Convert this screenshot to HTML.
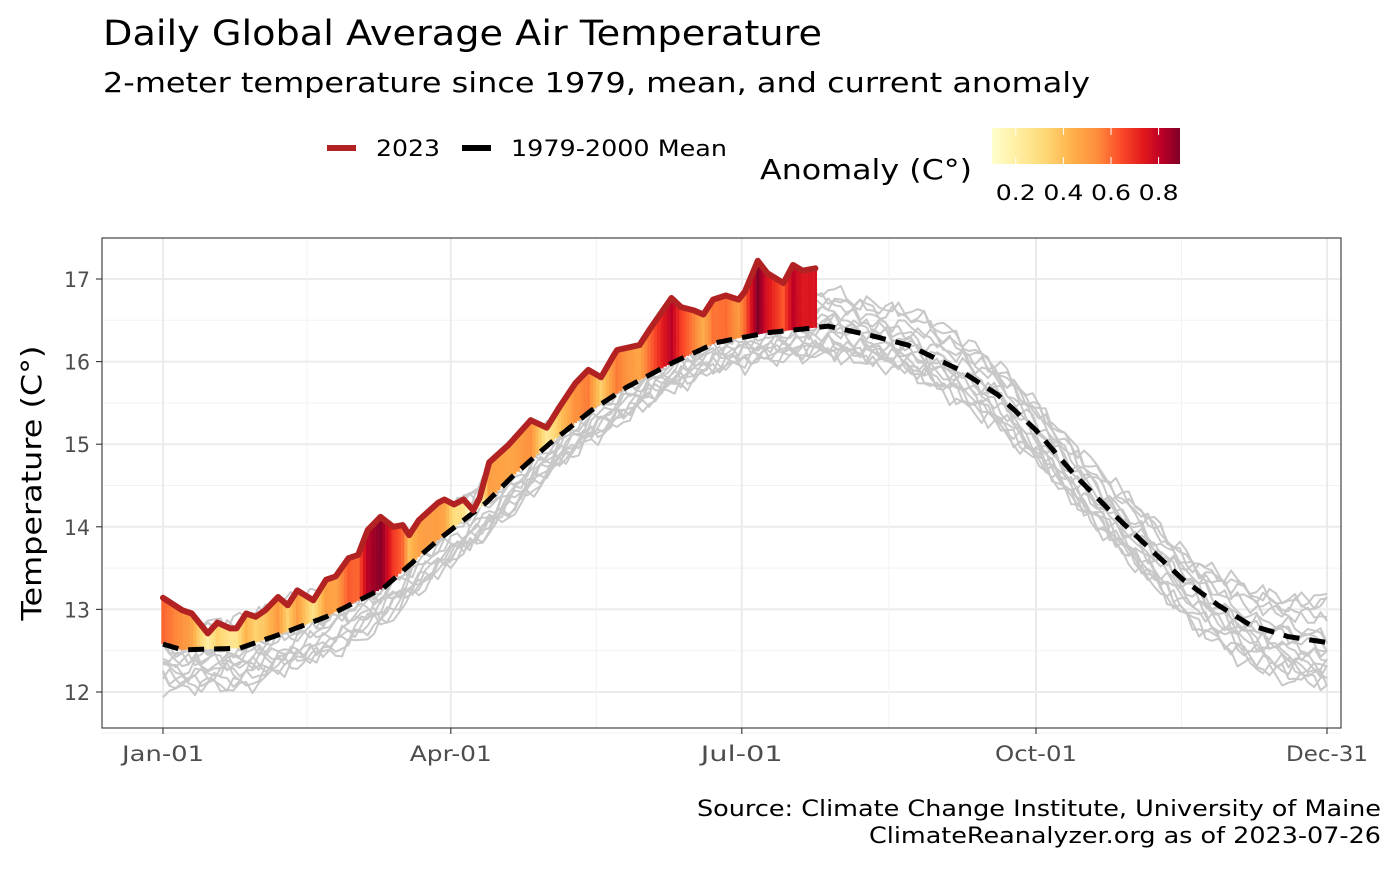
<!DOCTYPE html>
<html><head><meta charset="utf-8">
<style>
body{margin:0;background:#fff;width:1400px;height:866px;overflow:hidden;font-family:"DejaVu Sans","Liberation Sans",sans-serif;}
svg text{font-family:"DejaVu Sans","Liberation Sans",sans-serif;}
</style></head>
<body>
<svg id="chart" width="1400" height="866" xmlns="http://www.w3.org/2000/svg">
<defs>
<linearGradient id="cbar" x1="0" x2="1" y1="0" y2="0">
<stop offset="0" stop-color="#ffffcc"/><stop offset="0.14" stop-color="#ffeda0"/>
<stop offset="0.28" stop-color="#fed976"/><stop offset="0.42" stop-color="#feb24c"/>
<stop offset="0.56" stop-color="#fd8d3c"/><stop offset="0.68" stop-color="#fc4e2a"/>
<stop offset="0.8" stop-color="#e31a1c"/><stop offset="0.9" stop-color="#bd0026"/>
<stop offset="1" stop-color="#800026"/>
</linearGradient>
<clipPath id="pclip"><rect x="102" y="238" width="1239" height="490"/></clipPath>
</defs>
<text x="103" y="45" font-size="35" textLength="719" lengthAdjust="spacingAndGlyphs" fill="#000">Daily Global Average Air Temperature</text>
<text x="103" y="92" font-size="28" textLength="987" lengthAdjust="spacingAndGlyphs" fill="#000">2-meter temperature since 1979, mean, and current anomaly</text>
<g>
<line x1="327" y1="148" x2="356" y2="148" stroke="#b22222" stroke-width="6"/>
<text x="376" y="156" font-size="22" textLength="64" lengthAdjust="spacingAndGlyphs">2023</text>
<line x1="462" y1="148" x2="491" y2="148" stroke="#000" stroke-width="6"/>
<text x="511" y="156" font-size="22" textLength="216" lengthAdjust="spacingAndGlyphs">1979-2000 Mean</text>
<text x="760" y="179" font-size="28" textLength="212" lengthAdjust="spacingAndGlyphs">Anomaly (C°)</text>
<rect x="992" y="128" width="188" height="36" fill="url(#cbar)"/>
<g id="cbticks"></g>
</g>
<rect x="102" y="238" width="1239" height="490" fill="#fff"/>
<g id="grid"></g>
<g id="gray" clip-path="url(#pclip)"></g>
<g id="anom" clip-path="url(#pclip)"></g>
<g id="lines" clip-path="url(#pclip)"></g>
<rect x="102" y="238" width="1239" height="490" fill="none" stroke="#333" stroke-width="1.1"/>
<g id="axes"></g>
<text transform="translate(41,483) rotate(-90)" text-anchor="middle" font-size="28" textLength="275" lengthAdjust="spacingAndGlyphs">Temperature (C°)</text>
<text x="1381" y="816" text-anchor="end" font-size="22" textLength="684" lengthAdjust="spacingAndGlyphs">Source: Climate Change Institute, University of Maine</text>
<text x="1381" y="843" text-anchor="end" font-size="22" textLength="512" lengthAdjust="spacingAndGlyphs">ClimateReanalyzer.org as of 2023-07-26</text>
</svg>
<script>
// ---- data ----
const meanDays = [1,7,25,37,52,70,87,102,110,122,135,146,160,174,190,205,209,222,234,250,262,274,286,297,310,320,331,341,353,365];
const meanTemps = [12.58,12.51,12.53,12.69,12.91,13.26,13.84,14.29,14.6,15.01,15.41,15.69,15.98,16.23,16.35,16.41,16.43,16.32,16.2,15.9,15.6,15.17,14.63,14.2,13.72,13.36,13.05,12.81,12.67,12.6];
const y2023Days = [1,7,10,15,18,22,24,27,30,33,37,40,43,48,52,55,59,62,65,69,73,76,78,81,87,89,92,95,98,100,103,109,116,121,125,130,134,138,142,143,150,153,160,163,167,170,173,177,181,183,187,190,195,198,201,205];
const y2023Temps = [13.14,12.99,12.95,12.71,12.84,12.77,12.77,12.95,12.91,12.99,13.15,13.05,13.23,13.11,13.36,13.4,13.62,13.66,13.96,14.12,14.0,14.02,13.9,14.08,14.29,14.33,14.27,14.33,14.2,14.35,14.78,14.99,15.29,15.2,15.45,15.74,15.9,15.81,16.08,16.14,16.2,16.38,16.77,16.66,16.62,16.57,16.75,16.8,16.75,16.85,17.22,17.07,16.95,17.17,17.1,17.13];
// gray historical years: anomaly vs mean at days 1,15,29,...,365 (every 14 days)
const grayDays = [1,15,29,43,57,71,85,99,113,127,141,155,169,183,197,211,225,239,253,267,281,295,309,323,337,351,365];
const grayYears = [
[-0.30,-0.20,-0.35,-0.25,-0.10,-0.30,-0.20,-0.35,-0.15,-0.30,-0.20,-0.10,-0.25,-0.30,-0.15,-0.20,-0.30,-0.10,-0.20,-0.35,-0.25,-0.30,-0.15,-0.20,-0.35,-0.30,-0.40],
[0.20,0.35,0.15,0.25,0.30,0.10,0.20,0.05,0.15,0.10,0.20,0.15,0.10,0.25,0.30,0.35,0.20,0.25,0.15,0.30,0.20,0.25,0.35,0.20,0.30,0.25,0.35],
[-0.15,-0.05,-0.20,-0.30,-0.25,-0.15,-0.35,-0.25,-0.40,-0.30,-0.20,-0.25,-0.15,-0.10,-0.20,-0.05,-0.15,-0.25,-0.30,-0.20,-0.35,-0.25,-0.30,-0.45,-0.35,-0.40,-0.30],
[0.05,0.10,0.00,-0.10,0.05,0.15,0.05,-0.05,0.10,0.00,-0.05,0.05,0.10,0.00,-0.05,0.10,0.05,-0.05,0.00,0.10,0.05,0.15,0.05,0.10,0.00,0.15,0.05],
[-0.45,-0.35,-0.40,-0.30,-0.35,-0.20,-0.30,-0.15,-0.25,-0.35,-0.30,-0.20,-0.30,-0.25,-0.35,-0.30,-0.20,-0.35,-0.40,-0.30,-0.20,-0.35,-0.25,-0.40,-0.50,-0.45,-0.50],
[0.35,0.25,0.40,0.20,0.25,0.35,0.15,0.25,0.30,0.20,0.10,0.20,0.15,0.20,0.25,0.30,0.40,0.35,0.25,0.20,0.35,0.30,0.40,0.25,0.35,0.45,0.50],
[-0.25,-0.30,-0.15,-0.35,-0.30,-0.40,-0.25,-0.30,-0.20,-0.15,-0.25,-0.35,-0.20,-0.15,-0.10,-0.20,-0.15,-0.05,-0.15,-0.10,-0.20,-0.10,-0.25,-0.15,-0.20,-0.10,-0.15],
[0.10,0.00,0.15,0.05,-0.05,0.00,0.10,0.15,0.05,0.10,0.15,0.05,0.00,0.05,0.10,0.20,0.15,0.10,0.20,0.15,0.10,0.05,0.15,0.20,0.10,0.05,0.10],
[-0.35,-0.45,-0.50,-0.40,-0.45,-0.35,-0.30,-0.40,-0.35,-0.25,-0.30,-0.25,-0.35,-0.20,-0.25,-0.30,-0.35,-0.25,-0.20,-0.25,-0.15,-0.20,-0.30,-0.25,-0.15,-0.25,-0.35],
[0.25,0.15,0.20,0.30,0.15,0.20,0.25,0.10,0.20,0.25,0.15,0.25,0.30,0.15,0.10,0.05,0.10,0.20,0.30,0.25,0.15,0.10,0.05,0.15,0.20,0.30,0.25],
[-0.10,-0.20,-0.10,0.00,-0.15,-0.05,-0.10,-0.20,-0.05,-0.10,0.00,-0.10,-0.05,-0.15,-0.05,0.00,-0.10,0.05,-0.05,0.00,-0.10,-0.05,0.00,-0.10,-0.05,-0.15,-0.20],
[-0.20,-0.10,-0.25,-0.15,-0.05,-0.20,-0.10,-0.25,-0.30,-0.20,-0.35,-0.15,-0.25,-0.35,-0.30,-0.25,-0.15,-0.20,-0.10,-0.15,-0.25,-0.20,-0.10,-0.05,-0.10,-0.20,-0.25],
[0.15,0.25,0.10,0.15,0.20,0.05,0.15,0.20,0.10,0.05,0.10,0.20,0.25,0.35,0.40,0.45,0.30,0.40,0.35,0.30,0.25,0.20,0.30,0.35,0.40,0.35,0.45],
[-0.40,-0.30,-0.25,-0.45,-0.35,-0.25,-0.40,-0.30,-0.25,-0.20,-0.10,-0.20,-0.10,-0.15,-0.25,-0.35,-0.25,-0.30,-0.35,-0.40,-0.30,-0.35,-0.40,-0.30,-0.25,-0.35,-0.45],
[0.00,-0.10,0.05,-0.05,0.10,0.00,-0.05,0.05,-0.10,-0.05,0.05,-0.05,-0.10,-0.05,0.05,0.10,0.00,-0.10,-0.05,0.05,0.00,-0.10,-0.05,0.05,-0.10,0.00,-0.10],
[-0.55,-0.40,-0.45,-0.35,-0.50,-0.45,-0.40,-0.35,-0.45,-0.30,-0.40,-0.30,-0.20,-0.30,-0.20,-0.25,-0.20,-0.30,-0.25,-0.35,-0.30,-0.25,-0.35,-0.45,-0.40,-0.55,-0.45],
[0.30,0.20,0.30,0.40,0.25,0.30,0.20,0.30,0.25,0.15,0.25,0.30,0.35,0.30,0.35,0.25,0.35,0.45,0.40,0.35,0.30,0.40,0.30,0.25,0.45,0.40,0.55],
[-0.05,0.05,-0.10,0.10,0.00,-0.10,0.05,0.00,-0.15,-0.10,-0.15,0.00,0.05,0.10,0.00,-0.05,0.10,0.00,0.10,-0.05,-0.10,0.00,0.10,0.00,-0.05,0.05,0.00]
];
const yTicks = [12,13,14,15,16,17];
const xTickDays = [1,91,182,274,365];
const xTickLabels = ["Jan-01","Apr-01","Jul-01","Oct-01","Dec-31"];
const cbTicks = [0.2,0.4,0.6,0.8];
const cbMin = 0.1, cbMax = 0.89;

// ---- scales ----
const X = d => 163 + (d - 1) * (1327 - 163) / 364;
const Y = v => 279 + (17 - v) * (692 - 279) / 5;
const CBX = a => 992 + (a - cbMin) / (cbMax - cbMin) * 188;
function interp(xs, ys, d){
  if (d <= xs[0]) return ys[0];
  for (let i = 1; i < xs.length; i++) if (d <= xs[i]) { const t = (d - xs[i-1]) / (xs[i] - xs[i-1]); return ys[i-1] + t * (ys[i] - ys[i-1]); }
  return ys[ys.length - 1];
}
const stops = ["#ffffcc","#ffeda0","#fed976","#feb24c","#fd8d3c","#fc4e2a","#e31a1c","#bd0026","#800026"];
function hex(c){return [1,3,5].map(i=>parseInt(c.substr(i,2),16));}
function colorFor(a){
  let t = Math.max(0, Math.min(1, (a - cbMin) / (cbMax - cbMin))) * (stops.length - 1);
  const i = Math.min(stops.length - 2, Math.floor(t)); const f = t - i;
  const c0 = hex(stops[i]), c1 = hex(stops[i+1]);
  return "rgb(" + c0.map((v,k)=>Math.round(v + f * (c1[k]-v))).join(",") + ")";
}
const NS = "http://www.w3.org/2000/svg";
function mk(tag, attrs, parent){ const e = document.createElementNS(NS, tag); for (const k in attrs) e.setAttribute(k, attrs[k]); parent.appendChild(e); return e; }

// grid
const grid = document.getElementById("grid");
yTicks.forEach((v, i) => {
  const g = mk("line", {x1:102, x2:1341, y1:Y(v), y2:Y(v), stroke:"#ebebeb", "stroke-width":2}, grid);
  
  
  if (i < yTicks.length - 1) {
    const m = mk("line", {x1:102, x2:1341, y1:Y(v + 0.5), y2:Y(v + 0.5), stroke:"#f2f2f2", "stroke-width":1}, grid);
    
    
  }
});
[11.5].forEach(v => { const m = mk("line", {x1:102, x2:1341, y1:Y(v), y2:Y(v), stroke:"#f2f2f2", "stroke-width":1}, grid);   });
xTickDays.forEach((d, i) => {
  const g = mk("line", {x1:X(d), x2:X(d), y1:238, y2:728, stroke:"#ebebeb", "stroke-width":2}, grid);
  
  
  if (i < xTickDays.length - 1) {
    const md = (d + xTickDays[i+1]) / 2;
    const m = mk("line", {x1:X(md), x2:X(md), y1:238, y2:728, stroke:"#f2f2f2", "stroke-width":1}, grid);
    
    
  }
});

// gray years
const gray = document.getElementById("gray");
grayYears.forEach((off, k) => {
  let pts = [];
  for (let d = 1; d <= 365; d += 2) {
    const wig = 0.07 * Math.sin(d * 0.7 + k * 1.9) + 0.04 * Math.sin(d * 1.9 + k * 3.1);
    pts.push(X(d).toFixed(1) + "," + Y(interp(meanDays, meanTemps, d) + interp(grayDays, off, d) + wig).toFixed(1));
  }
  const p = mk("polyline", {points: pts.join(" "), fill:"none", stroke:"#c8c8c8", "stroke-width":2, "stroke-linejoin":"round"}, gray);
  
  
});

// anomaly bars
const anom = document.getElementById("anom");
const lastDay = y2023Days[y2023Days.length - 1];
for (let d = 1; d <= lastDay; d++) {
  const m = interp(meanDays, meanTemps, d), t = interp(y2023Days, y2023Temps, d);
  const r = mk("rect", {x: X(d) - 1.7, width: 3.4, y: Y(t), height: Math.max(0, Y(m) - Y(t)), fill: colorFor(t - m)}, anom);
  
  
}

// lines
const lines = document.getElementById("lines");
let mp = [];
for (let d = 1; d <= 365; d++) mp.push(X(d).toFixed(1) + "," + Y(interp(meanDays, meanTemps, d)).toFixed(1));
const ml = mk("polyline", {points: mp.join(" "), fill:"none", stroke:"#000", "stroke-width":5, "stroke-dasharray":"16,10"}, lines);


const yp = y2023Days.map((d, i) => X(d).toFixed(1) + "," + Y(y2023Temps[i]).toFixed(1));
const yl = mk("polyline", {points: yp.join(" "), fill:"none", stroke:"#b22222", "stroke-width":6, "stroke-linejoin":"round", "stroke-linecap":"round"}, lines);



// axes
const axes = document.getElementById("axes");
yTicks.forEach(v => {
  const t = mk("line", {x1:96, x2:102, y1:Y(v), y2:Y(v), stroke:"#333", "stroke-width":1.1}, axes);
  
  
  const l = mk("text", {x:90, y:Y(v) + 8, "text-anchor":"end", "font-size":21, textLength:26, lengthAdjust:"spacingAndGlyphs", fill:"#4d4d4d"}, axes);
  l.textContent = v;
  
  
});
xTickDays.forEach((d, i) => {
  const t = mk("line", {x1:X(d), x2:X(d), y1:728, y2:734, stroke:"#333", "stroke-width":1.1}, axes);
  
  
  const l = mk("text", {x:X(d), y:761, "text-anchor":"middle", "font-size":21, textLength:82, lengthAdjust:"spacingAndGlyphs", fill:"#4d4d4d"}, axes);
  l.textContent = xTickLabels[i];
  
  
});
const cbg = document.getElementById("cbticks");
cbTicks.forEach(a => {
  const t1 = mk("line", {x1:CBX(a), x2:CBX(a), y1:128, y2:135, stroke:"#fff", "stroke-width":1}, cbg);
  
  
  const t2 = mk("line", {x1:CBX(a), x2:CBX(a), y1:157, y2:164, stroke:"#fff", "stroke-width":1}, cbg);
  
  
  const l = mk("text", {x:CBX(a), y:200, "text-anchor":"middle", "font-size":21, textLength:40, lengthAdjust:"spacingAndGlyphs", fill:"#000"}, cbg);
  l.textContent = a.toFixed(1);
  
  
});
</script>
</body></html>
